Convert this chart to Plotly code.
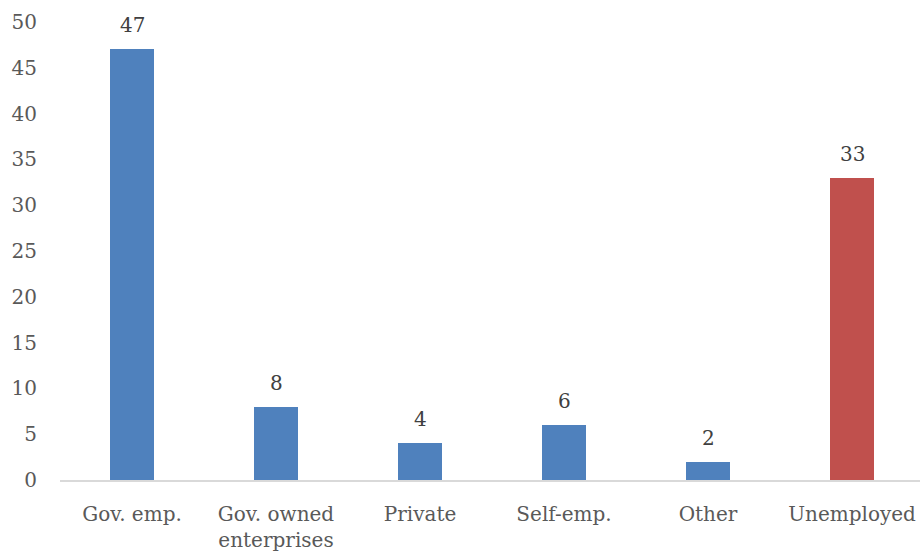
import plotly.graph_objects as go

categories = ["Gov. emp.", "Gov. owned<br>enterprises", "Private", "Self-emp.", "Other", "Unemployed"]
values = [47, 8, 4, 6, 2, 33]
colors = ["#4F81BD", "#4F81BD", "#4F81BD", "#4F81BD", "#4F81BD", "#C0504D"]
y_ticks = [0, 5, 10, 15, 20, 25, 30, 35, 40, 45, 50]

font_family = "DejaVu Serif"

fig = go.Figure()
fig.add_trace(go.Bar(
    x=list(range(len(categories))),
    y=values,
    marker=dict(color=colors, line=dict(width=0)),
    width=0.306,
    hoverinfo="skip",
    cliponaxis=False,
))

for i, v in enumerate(values):
    fig.add_annotation(
        x=i, y=v, text=str(v), showarrow=False,
        yanchor="bottom", yshift=10,
        font=dict(family=font_family, size=20, color="#404040"),
    )

fig.update_layout(
    width=920, height=551,
    margin=dict(l=60, r=0, t=22, b=71, autoexpand=False),
    paper_bgcolor="white", plot_bgcolor="white",
    showlegend=False,
    bargap=0,
    xaxis=dict(
        range=[-0.5, 5.472],
        tickmode="array",
        tickvals=list(range(len(categories))),
        ticktext=categories,
        showgrid=False,
        zeroline=False,
        showline=True,
        linecolor="#D9D9D9",
        linewidth=1.5,
        ticks="",
        automargin=False,
        ticklabelstandoff=15,
        tickfont=dict(family=font_family, size=20, color="#595959"),
    ),
    yaxis=dict(
        range=[0, 50],
        tickmode="array",
        tickvals=y_ticks,
        ticktext=[str(t) for t in y_ticks],
        showgrid=False,
        zeroline=False,
        showline=False,
        ticks="",
        automargin=False,
        ticklabelstandoff=22,
        tickfont=dict(family=font_family, size=20, color="#595959"),
    ),
)

fig.write_html(
    "out.html",
    config={"displayModeBar": False},
    post_script="document.body.style.margin='0';document.body.style.overflow='hidden';",
)
